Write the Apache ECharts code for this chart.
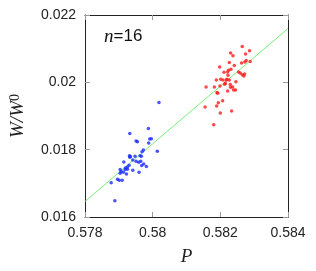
<!DOCTYPE html>
<html><head><meta charset="utf-8">
<script src="https://cdn.jsdelivr.net/npm/echarts@6/dist/echarts.min.js"></script>
<style>html,body{margin:0;padding:0;background:#fff}#c{width:316px;height:271px}</style>
</head><body><div id="c"></div>
<script>
const xTicks = [0.578, 0.58, 0.582, 0.584];
const yTicks = [0.016, 0.018, 0.02, 0.022];
const bluePoints = [
[0.579873,0.018631],[0.579324,0.018483],[0.579961,0.018326],[0.579912,0.018316],[0.579510,0.018257],
[0.579549,0.018237],[0.579882,0.018198],[0.580137,0.017951],[0.579726,0.017991],[0.579686,0.017941],
[0.579314,0.017823],[0.579343,0.017794],[0.579324,0.017774],[0.579480,0.017804],[0.579627,0.017823],
[0.579667,0.017804],[0.579147,0.017637],[0.579412,0.017696],[0.579510,0.017656],[0.579588,0.017627],
[0.579647,0.017656],[0.579304,0.017538],[0.579255,0.017488],[0.579735,0.017577],[0.579676,0.017528],
[0.579196,0.017459],[0.579255,0.017419],[0.579186,0.017409],[0.579039,0.017409],[0.579069,0.017350],
[0.579412,0.017389],[0.579598,0.017331],[0.579814,0.017498],[0.579039,0.017296],[0.579137,0.017326],
[0.579225,0.017276],[0.578961,0.017119],[0.579010,0.017089],[0.579098,0.017089],[0.578774,0.017020],
[0.578882,0.016483],[0.580186,0.019399]
];
const redPoints = [
[0.582647,0.021065],[0.582304,0.020868],[0.582373,0.020789],[0.582863,0.020937],[0.582745,0.020838],
[0.581980,0.020454],[0.582265,0.020592],[0.582412,0.020503],[0.582627,0.020572],[0.582726,0.020602],
[0.582765,0.020651],[0.582882,0.020622],[0.582108,0.020296],[0.582216,0.020306],[0.582245,0.020356],
[0.582314,0.020385],[0.582539,0.020306],[0.582588,0.020277],[0.582647,0.020227],[0.582716,0.020247],
[0.582696,0.020188],[0.582225,0.020208],[0.582196,0.020090],[0.581882,0.020070],[0.582010,0.020090],
[0.582079,0.020070],[0.582176,0.020070],[0.582265,0.020070],[0.582461,0.020021],[0.582147,0.019971],
[0.582294,0.019932],[0.581990,0.019892],[0.582127,0.019942],[0.581579,0.019862],[0.581824,0.019862],
[0.582304,0.019853],[0.582363,0.019862],[0.582392,0.019774],[0.582451,0.019774],[0.581902,0.019695],
[0.581922,0.019676],[0.582216,0.019744],[0.582069,0.019450],[0.581941,0.019391],[0.581549,0.019266],
[0.581892,0.019296],[0.582000,0.019089],[0.582333,0.019148],[0.581804,0.018743]
];
const fitX = [0.578, 0.584];
const fitY = [0.01646, 0.02160];

const chart = echarts.init(document.getElementById('c'), null, {renderer:'canvas'});
const axisLine = {show:true, lineStyle:{color:'#222', width:1}};
const tick = {show:true, inside:true, length:5, lineStyle:{color:'#999'}};
const lbl = {fontFamily:'Liberation Sans, Arial', fontSize:14, color:'#222'};
const fmt = v => String(+v.toFixed(3));
option = {
  animation:false,
  grid:{left:84, right:28, top:15, bottom:53},
  xAxis:[
    {type:'value', min:0.578, max:0.584, interval:0.002, axisLine, axisTick:tick, splitLine:{show:false},
     axisLabel:{...lbl, margin:9, formatter:fmt},
     name:'P', nameLocation:'middle', nameGap:30,
     nameTextStyle:{fontFamily:'Liberation Serif, Times New Roman', fontStyle:'italic', fontSize:19, color:'#222'}},
    {type:'value', position:'top', min:0.578, max:0.584, interval:0.002, axisLine, axisTick:tick, axisLabel:{show:false}, splitLine:{show:false}}
  ],
  yAxis:[
    {type:'value', min:0.016, max:0.022, interval:0.002, axisLine, axisTick:tick, splitLine:{show:false},
     axisLabel:{...lbl, margin:9, formatter:fmt},
     name:'{a|W/W}{b|0}', nameLocation:'middle', nameGap:57,
     nameTextStyle:{rich:{
        a:{fontFamily:'Liberation Serif, Times New Roman', fontStyle:'italic', fontSize:19, color:'#222'},
        b:{fontFamily:'Liberation Serif, Times New Roman', fontSize:14, color:'#222', verticalAlign:'top', padding:[0,0,6,0]}
     }}},
    {type:'value', position:'right', min:0.016, max:0.022, interval:0.002, axisLine, axisTick:tick, axisLabel:{show:false}, splitLine:{show:false}}
  ],
  graphic:[{type:'text', left:104, top:27, style:{
     text:'{i|n}{r|=16}',
     rich:{i:{fontFamily:'Liberation Serif, Times New Roman', fontStyle:'italic', fontSize:19, fill:'#111'},
           r:{fontFamily:'Liberation Sans, Arial', fontSize:17, fill:'#111'}}}}],
  series:[
    {type:'line', data:fitX.map((x,i)=>[x,fitY[i]]), showSymbol:false, lineStyle:{color:'#77ee77', width:1}, z:1},
    {type:'scatter', data:bluePoints, symbolSize:3.5, itemStyle:{color:'#1a2bff'}, z:2},
    {type:'scatter', data:redPoints, symbolSize:3.5, itemStyle:{color:'#ff1a1a'}, z:2}
  ]
};
chart.setOption(option);
</script></body></html>
